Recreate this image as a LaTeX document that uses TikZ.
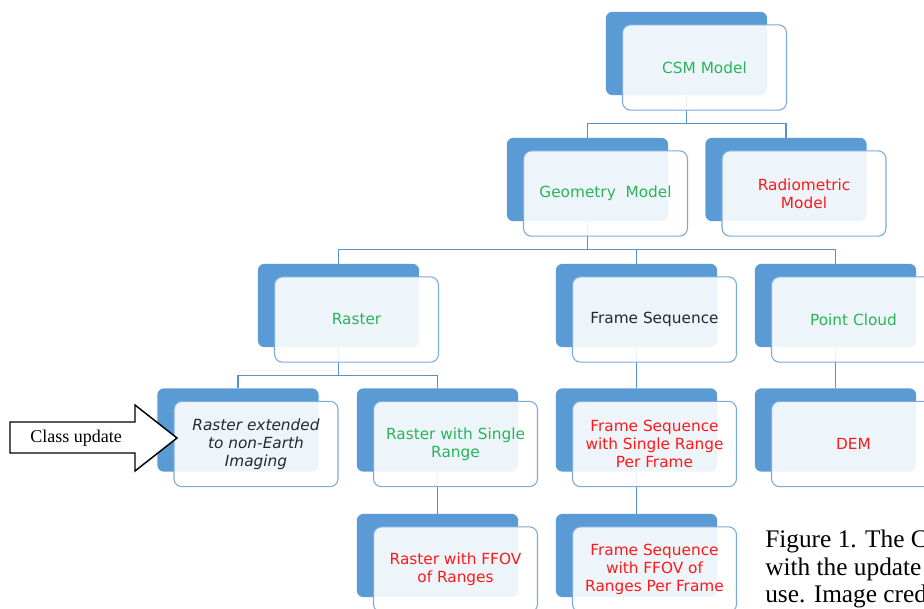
\documentclass[tikz,border=0pt]{standalone}
\usepackage{fontspec}
\setmainfont{Liberation Serif}
\newfontfamily\boxfont{DejaVu Sans}

\definecolor{shadowblue}{RGB}{91,155,213}
\definecolor{edgeblue}{RGB}{125,170,220}
\definecolor{linkblue}{RGB}{86,145,208}
\definecolor{modelgreen}{RGB}{40,180,90}
\definecolor{modelred}{RGB}{255,25,25}
\definecolor{darktext}{RGB}{40,40,40}

\begin{document}
\begin{tikzpicture}[x=0.75pt,y=0.75pt,yscale=-1,xscale=1,
  back/.style={fill=shadowblue, rounded corners=5pt, minimum width=121pt, minimum height=62.5pt, inner sep=0pt},
  front/.style={draw=edgeblue, line width=0.8pt, fill=white, fill opacity=0.9, text opacity=1, rounded corners=6pt, minimum width=123pt, minimum height=64pt, inner sep=2pt, align=center, font=\boxfont\fontsize{11.5}{13.5}\selectfont},
  conn/.style={draw=linkblue, line width=1.1pt},
  gtxt/.style={text=modelgreen},
  rtxt/.style={text=modelred}]
\useasboundingbox (0,0) rectangle (924,608);
\clip (0,0) rectangle (924,608);

%Shape: back boxes
\node[back] (csm) at (686.5,53.5) {};
\node[back] (geom) at (587.5,179.5) {};
\node[back] (radio) at (786,179.5) {};
\node[back] (raster) at (338.5,305.5) {};
\node[back] (frseq) at (636.5,305.5) {};
\node[back] (cloud) at (835.5,305.5) {};
\node[back] (rnonearth) at (238,430) {};
\node[back] (rsingle) at (437.5,430) {};
\node[back] (fsingle) at (636.5,430) {};
\node[back] (dem) at (835.5,430) {};
\node[back] (rffov) at (437.5,555.5) {};
\node[back] (fffov) at (636.5,555.5) {};

%Straight Lines: tree links
\draw[conn] (csm.south) -- ++(0,28) -| (geom.north);
\draw[conn] (csm.south) -- ++(0,28) -| (radio.north);
\draw[conn] (geom.south) -- ++(0,28) -| (raster.north);
\draw[conn] (geom.south) -- ++(0,28) -| (frseq.north);
\draw[conn] (geom.south) -- ++(0,28) -| (cloud.north);
\draw[conn] (raster.south) -- ++(0,28) -| (rnonearth.north);
\draw[conn] (raster.south) -- ++(0,28) -| (rsingle.north);
\draw[conn] (frseq.south) -- (fsingle.north);
\draw[conn] (cloud.south) -- (dem.north);
\draw[conn] (rsingle.south) -- (rffov.north);
\draw[conn] (fsingle.south) -- (fffov.north);

%Shape: front boxes
\node[front, gtxt] (csmF) at ([shift={(18,14)}]csm) {CSM Model};
\node[front, gtxt] (geomF) at ([shift={(18,14)}]geom) {Geometry\ \ Model};
\node[front, rtxt] (radioF) at ([shift={(18,14)}]radio) {Radiometric\\Model};
\node[front, gtxt] (rasterF) at ([shift={(18,14)}]raster) {Raster};
\node[front, text=darktext] (frseqF) at ([shift={(18,14)}]frseq) {Frame Sequence};
\node[front, gtxt] (cloudF) at ([shift={(18,14)}]cloud) {Point Cloud};
\node[front, text=darktext, font=\boxfont\itshape\fontsize{11.5}{13.5}\selectfont] (rnonearthF) at ([shift={(18,14)}]rnonearth) {Raster extended\\to non-Earth\\Imaging};
\node[front, gtxt] (rsingleF) at ([shift={(18,14)}]rsingle) {Raster with Single\\Range};
\node[front, rtxt] (fsingleF) at ([shift={(18,14)}]fsingle) {Frame Sequence\\with Single Range\\Per Frame};
\node[front, rtxt] (demF) at ([shift={(18,14)}]dem) {DEM};
\node[front, rtxt] (rffovF) at ([shift={(18,14)}]rffov) {Raster with FFOV\\of Ranges};
\node[front, rtxt] (fffovF) at ([shift={(18,14)}]fffov) {Frame Sequence\\with FFOV of\\Ranges Per Frame};

%Shape: Right Arrow
\draw[line width=1.1pt, fill=white] (10,422) -- (135,422) -- (135,405) -- (177,438) -- (135,471) -- (135,453) -- (10,453) -- cycle;
% Text Node
\node[font=\fontsize{13.5}{16}\selectfont] (upd) at (76,438) {Class update};

% Text Node
\node[anchor=base west, inner sep=0pt, font=\fontsize{19}{21}\selectfont] (capA) at (765,547) {Figure 1. The C};
\node[anchor=base west, inner sep=0pt, font=\fontsize{19}{21}\selectfont] (capB) at (765,575) {with the update};
\node[anchor=base west, inner sep=0pt, font=\fontsize{19}{21}\selectfont] (capC) at (765,602) {use. Image cred};

\end{tikzpicture}
\end{document}
